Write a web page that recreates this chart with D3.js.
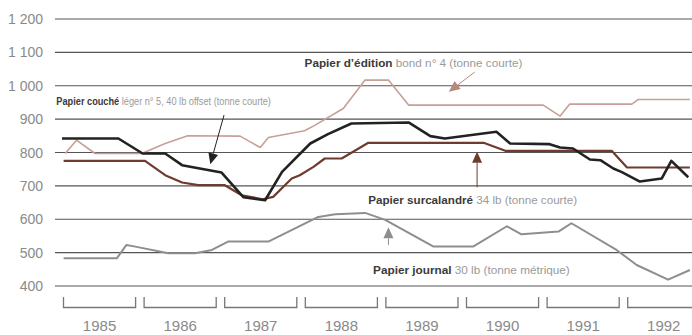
<!DOCTYPE html>
<html><head><meta charset="utf-8">
<script src="https://cdn.jsdelivr.net/npm/d3@7"></script>
<style>
html,body{margin:0;padding:0;background:#fff;}
svg{display:block;}
</style></head><body>
<svg id="chart" width="692" height="335"></svg>
<script>
// ---- data ----
const years = [1985,1986,1987,1988,1989,1990,1991,1992];
const yTicks = [400,500,600,700,800,900,1000,1100,1200];

// Papier couché léger n° 5 (black)
const coucheT = [1985.0,1985.70,1986.0,1986.28,1986.49,1986.98,1987.25,1987.52,1987.73,1988.08,1988.30,1988.59,1989.30,1989.57,1989.75,1990.39,1990.56,1991.05,1991.18,1991.34,1991.55,1991.68,1991.84,1991.94,1992.17,1992.44,1992.56,1992.77];
const coucheV = [842,842,797,797,762,740,666,657,742,827,855,887,890,849,842,862,827,825,815,812,779,777,752,742,713,722,775,726];

// Papier d'édition bond n° 4 (light pink)
const editionT = [1985.04,1985.18,1985.41,1985.99,1986.28,1986.56,1987.21,1987.46,1987.56,1988.01,1988.14,1988.49,1988.76,1989.05,1989.30,1990.97,1991.18,1991.30,1992.07,1992.15,1992.79];
const editionV = [797,837,797,797,827,850,849,815,845,865,882,932,1017,1017,942,942,909,945,945,959,959];

// Papier surcalandré 34 lb (brown)
const surcalT = [1985.02,1986.03,1986.28,1986.49,1986.69,1987.02,1987.23,1987.49,1987.62,1987.85,1987.95,1988.12,1988.26,1988.47,1988.68,1988.80,1990.23,1990.50,1991.82,1992.01,1992.79];
const surcalV = [775,775,732,710,702,702,672,660,667,722,732,757,782,782,812,829,829,805,805,755,755];

// Papier journal 30 lb (gray)
const journalT = [1985.02,1985.68,1985.80,1985.91,1986.32,1986.65,1986.86,1987.06,1987.56,1988.18,1988.39,1988.76,1989.01,1989.61,1990.10,1990.52,1990.70,1991.16,1991.32,1991.88,1992.13,1992.52,1992.79];
const journalV = [483,483,523,518,498,498,508,533,533,607,615,619,598,518,518,579,555,563,588,508,463,419,448];

const labelBold = ["Papier d\u2019édition","Papier couché","Papier surcalandré","Papier journal"];
const labelRest = [" bond n\u00b0 4 (tonne courte)"," léger n\u00b0 5, 40 lb offset (tonne courte)"," 34 lb (tonne courte)"," 30 lb (tonne métrique)"];

// ---- layout / style ----
const W = 692, H = 335;
const svg = d3.select("#chart");
const x = d3.scaleLinear().domain([1985, 1993]).range([62, 62 + 8*80.6]);
const y = d3.scaleLinear().domain([400, 1200]).range([286, 19]);
const fmt = d3.formatLocale({decimal: ",", thousands: " ", grouping: [3], currency: ["", " €"]}).format(",d");

const series = [
  {t: journalT, v: journalV, color: "#8e8e8e", w: 2},
  {t: editionT, v: editionV, color: "#c79f97", w: 1.6},
  {t: surcalT, v: surcalV, color: "#6f3b2e", w: 2.2},
  {t: coucheT, v: coucheV, color: "#222222", w: 2.6}
];

// gridlines
svg.append("g").selectAll("line").data(yTicks).join("line")
  .attr("x1", 55).attr("x2", W)
  .attr("y1", d => y(d)).attr("y2", d => y(d))
  .attr("stroke", "#555").attr("stroke-width", 1.1);

// y labels
svg.append("g").selectAll("text").data(yTicks).join("text")
  .attr("x", 43).attr("y", d => y(d)).attr("dy", "0.36em")
  .attr("text-anchor", "end")
  .attr("font-family", "Liberation Sans, Arial, sans-serif")
  .attr("font-size", 14).attr("fill", "#8a8a8a")
  .text(d => fmt(d));

// year brackets
const gB = svg.append("g");
years.forEach(yr => {
  const x0 = x(yr) + 1.5, x1 = x(yr + 1) - 7;
  gB.append("path")
    .attr("d", `M${x0},297 L${x0},307.5 L${x1},307.5 L${x1},297`)
    .attr("fill", "none").attr("stroke", "#777").attr("stroke-width", 1.3);
  gB.append("text")
    .attr("x", (x0 + x1) / 2).attr("y", 331)
    .attr("text-anchor", "middle")
    .attr("font-family", "Liberation Sans, Arial, sans-serif")
    .attr("font-size", 15).attr("fill", "#8a8a8a")
    .text(yr);
});

// series lines
const line = d3.line().x(d => x(d[0])).y(d => y(d[1]));
series.forEach(s => {
  svg.append("path")
    .datum(s.t.map((t, i) => [t, s.v[i]]))
    .attr("d", line)
    .attr("fill", "none").attr("stroke", s.color)
    .attr("stroke-width", s.w).attr("stroke-linejoin", "round");
});

// annotations (positions in data units)
const annos = [
  {i: 0, t: 1988.01, v: 1056, width: 218, from: [1990.12, 1041], to: [1989.80, 982], color: "#b8877c"},
  {i: 1, t: 1984.93, v: 943, width: 215, from: [1987.01, 912], to: [1986.84, 765], color: "#222"},
  {i: 2, t: 1988.80, v: 646, width: 209, from: [1990.15, 696], to: [1990.15, 802], color: "#6f3b2e"},
  {i: 3, t: 1988.86, v: 437, width: 197, from: [1989.05, 523], to: [1989.05, 576], color: "#8e8e8e"}
];
annos.forEach(a => {
  const txt = svg.append("text")
    .attr("x", 0).attr("y", 0)
    .attr("font-family", "Liberation Sans, Arial, sans-serif")
    .attr("font-size", 11);
  txt.append("tspan").attr("font-weight", "bold").attr("fill", "#3a3a3a").text(labelBold[a.i]);
  txt.append("tspan").attr("fill", "#9a9a9a").text(labelRest[a.i]);
  const len = txt.node().getComputedTextLength();
  txt.attr("transform", `translate(${x(a.t)},${y(a.v)}) scale(${a.width / len},1)`);

  const x1 = x(a.from[0]), y1 = y(a.from[1]), x2 = x(a.to[0]), y2 = y(a.to[1]);
  const ang = Math.atan2(y2 - y1, x2 - x1);
  const L = 11, hw = 5;
  const bx = x2 - L * Math.cos(ang), by = y2 - L * Math.sin(ang);
  svg.append("line").attr("x1", x1).attr("y1", y1).attr("x2", bx).attr("y2", by)
    .attr("stroke", a.color).attr("stroke-width", 1);
  const px = -Math.sin(ang) * hw, py = Math.cos(ang) * hw;
  svg.append("path")
    .attr("d", `M${x2},${y2} L${bx + px},${by + py} L${bx - px},${by - py} Z`)
    .attr("fill", a.color);
});
</script>
</body></html>
